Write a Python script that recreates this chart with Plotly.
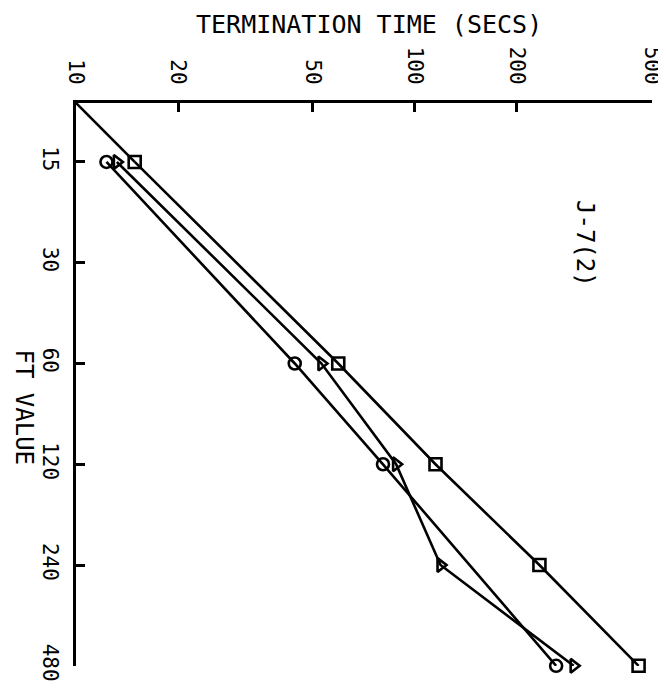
import plotly.graph_objects as go

# FT value (vertical axis, log) and termination time in seconds (horizontal axis, log)
ft_circle = [15, 60, 120, 480]
time_circle = [12.3, 44.2, 80.5, 261]

ft_triangle = [15, 60, 120, 240, 480]
time_triangle = [13.2, 53.0, 88, 119, 294]

ft_square = [15, 60, 120, 240, 480]
time_square = [14.9, 59.4, 115, 233, 457]

# reference start at the origin corner
origin_ft = [10]
origin_time = [10]

time_ticks = [10, 20, 50, 100, 200, 500]
ft_ticks = [15, 30, 60, 120, 240, 480]

font = "DejaVu Sans Mono"
line = dict(color="black", width=2.6)

fig = go.Figure()

# line from the corner to the first square point
fig.add_trace(go.Scatter(x=origin_time + time_square[:1], y=origin_ft + ft_square[:1],
                         mode="lines", line=line, showlegend=False))

series = [
    (time_circle, ft_circle, "circle-open"),
    (time_triangle, ft_triangle, "triangle-right-open"),
    (time_square, ft_square, "square-open"),
]
for t, f, sym in series:
    fig.add_trace(go.Scatter(
        x=t, y=f, mode="lines+markers", line=line,
        marker=dict(symbol=sym, size=12, color="black", line=dict(width=2.6, color="black")),
        showlegend=False, cliponaxis=False))

# the page body keeps an 8px margin, so the figure is 8px smaller than the window
fig.update_layout(
    width=658, height=684,
    margin=dict(l=68, r=14, t=95, b=26),
    paper_bgcolor="white", plot_bgcolor="white",
    font=dict(family=font, color="black", size=21),
    xaxis=dict(type="log", range=[1, 2.6995], side="top", automargin=False,
               tickvals=time_ticks, ticktext=[str(v) for v in time_ticks],
               tickangle=90, ticks="inside", ticklen=9, tickwidth=3, tickcolor="black",
               showline=True, linewidth=3, linecolor="black", showgrid=False,
               zeroline=False, ticklabelstandoff=8, ticklabeloverflow="allow"),
    yaxis=dict(type="log", range=[2.6818, 1], automargin=False,
               tickvals=ft_ticks, ticktext=[str(v) for v in ft_ticks],
               tickangle=90, ticks="inside", ticklen=9, tickwidth=3, tickcolor="black",
               showline=True, linewidth=3, linecolor="black", showgrid=False,
               zeroline=False, ticklabelstandoff=5, ticklabeloverflow="allow"),
    annotations=[
        dict(text="TERMINATION TIME (SECS)", x=0.508, y=1.14, xref="paper", yref="paper",
             showarrow=False, font=dict(size=25, family=font), xanchor="center", yanchor="middle"),
        dict(text="FT VALUE", x=-0.091, y=0.46, xref="paper", yref="paper", textangle=90,
             showarrow=False, font=dict(size=24, family=font), xanchor="center", yanchor="middle"),
        dict(text="J-7(2)", x=0.884, y=0.751, xref="paper", yref="paper", textangle=90,
             showarrow=False, font=dict(size=24, family=font), xanchor="center", yanchor="middle"),
    ],
)

fig.write_html("out.html")
